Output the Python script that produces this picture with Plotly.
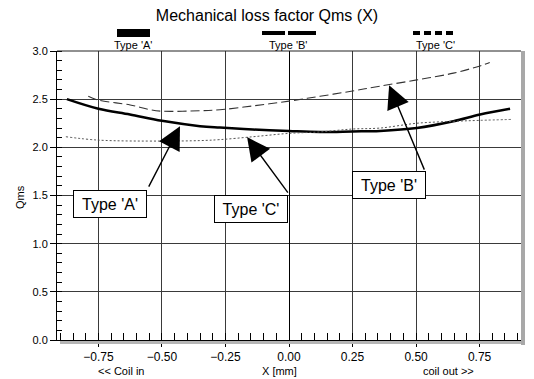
import plotly.graph_objects as go

# ---- data ----
x_a = [-0.874, -0.75, -0.626, -0.5, -0.35, -0.272, -0.142, 0.0, 0.122, 0.25, 0.358, 0.503, 0.647, 0.752, 0.87]
y_a = [2.50, 2.40, 2.34, 2.275, 2.22, 2.205, 2.185, 2.17, 2.16, 2.165, 2.17, 2.20, 2.27, 2.34, 2.40]

x_b = [-0.79, -0.75, -0.625, -0.547, -0.5, -0.35, -0.272, -0.142, 0.0, 0.122, 0.25, 0.358, 0.503, 0.647, 0.752, 0.79]
y_b = [2.53, 2.49, 2.44, 2.39, 2.375, 2.38, 2.39, 2.43, 2.48, 2.53, 2.585, 2.635, 2.70, 2.77, 2.845, 2.88]

x_c = [-0.878, -0.75, -0.5, -0.35, -0.272, -0.142, 0.0, 0.122, 0.25, 0.358, 0.503, 0.647, 0.752, 0.878]
y_c = [2.11, 2.075, 2.065, 2.07, 2.08, 2.11, 2.145, 2.16, 2.19, 2.20, 2.25, 2.27, 2.28, 2.29]

series_names = ["Type 'A'", "Type 'B'", "Type 'C'"]
title_text = "Mechanical loss factor Qms (X)"
x_ticks = [-0.75, -0.5, -0.25, 0.0, 0.25, 0.5, 0.75]
y_ticks = [0.0, 0.5, 1.0, 1.5, 2.0, 2.5, 3.0]

# callouts: (label, box centre x, box centre y, arrow tail x, tail y, tip x, tip y)
callouts = [
    ("Type 'A'", -0.705, 1.41, -0.555, 1.577, -0.429, 2.22),
    ("Type 'C'", -0.148, 1.364, 0.0, 1.515, -0.165, 2.106),
    ("Type 'B'", 0.394, 1.608, 0.535, 1.753, 0.394, 2.645),
]

FONT = "Liberation Sans, Arial, sans-serif"
W, H = 534, 379
L, R, T, B = 57, 13, 51, 39
PW, PH = W - L - R, H - T - B


def px(xp):
    return (xp - L) / PW


def py(yp):
    return (H - B - yp) / PH


fig = go.Figure()
fig.add_trace(go.Scatter(x=x_a, y=y_a, mode="lines", name=series_names[0],
                         line=dict(color="black", width=2.5, shape="spline")))
fig.add_trace(go.Scatter(x=x_b, y=y_b, mode="lines", name=series_names[1],
                         line=dict(color="#333333", width=1.1, dash="9px,4px", shape="spline")))
fig.add_trace(go.Scatter(x=x_c, y=y_c, mode="lines", name=series_names[2],
                         line=dict(color="#555555", width=1, dash="2px,2px", shape="spline")))

shapes = []
# legend swatches above the plot
shapes.append(dict(type="rect", xref="paper", yref="paper", x0=px(117), x1=px(150), y0=py(37), y1=py(29),
                   fillcolor="black", line=dict(width=0)))
shapes.append(dict(type="line", xref="paper", yref="paper", x0=px(262), x1=px(285), y0=py(33), y1=py(33),
                   line=dict(color="black", width=4)))
shapes.append(dict(type="line", xref="paper", yref="paper", x0=px(288), x1=px(316), y0=py(33), y1=py(33),
                   line=dict(color="black", width=4)))
shapes.append(dict(type="line", xref="paper", yref="paper", x0=px(413), x1=px(456), y0=py(33), y1=py(33),
                   line=dict(color="black", width=4, dash="7px,4px")))
# top frame line
shapes.append(dict(type="line", xref="paper", yref="paper", x0=0, x1=1, y0=1, y1=1,
                   line=dict(color="#222222", width=1)))
# hatched grey frame (right and bottom)
shapes.append(dict(type="rect", xref="paper", yref="paper", x0=1, x1=px(525), y0=py(345), y1=1,
                   fillcolor="#a8a8a8", line=dict(width=0)))
shapes.append(dict(type="rect", xref="paper", yref="paper", x0=px(60), x1=1, y0=py(344), y1=py(341),
                   fillcolor="#b5b5b5", line=dict(width=0)))

annotations = []
for name, cx in zip(series_names, [133, 288, 435]):
    annotations.append(dict(text=name, xref="paper", yref="paper", x=px(cx), y=py(45),
                            xanchor="center", yanchor="middle",
                            showarrow=False, font=dict(family=FONT, size=11, color="black")))

for label, bx, by, tx, ty, hx, hy in callouts:
    annotations.append(dict(text="", x=hx, y=hy, ax=tx, ay=ty, xref="x", yref="y", axref="x", ayref="y",
                            showarrow=True, arrowhead=2, arrowsize=3.3, arrowwidth=1.4, arrowcolor="black"))
    annotations.append(dict(text=label, x=bx, y=by, xref="x", yref="y", showarrow=False,
                            xanchor="center", yanchor="middle",
                            font=dict(family=FONT, size=16, color="black"),
                            bgcolor="white", bordercolor="black", borderwidth=1, borderpad=1,
                            width=70, height=24))

side = [("Qms", 20, 197, -90), ("<< Coil in", 121, 371, 0), ("X [mm]", 279, 371, 0), ("coil out >>", 448, 371, 0)]
for txt, xx, yy, ang in side:
    annotations.append(dict(text=txt, xref="paper", yref="paper", x=px(xx), y=py(yy), textangle=ang,
                            xanchor="center", yanchor="middle",
                            showarrow=False, font=dict(family=FONT, size=11, color="black")))

fig.update_layout(
    width=W, height=H,
    margin=dict(l=L, r=R, t=T, b=B, pad=0),
    paper_bgcolor="white", plot_bgcolor="white",
    showlegend=False,
    title=dict(text=title_text, x=0.5, xanchor="center", y=1 - 15 / H, yanchor="middle",
               font=dict(family=FONT, size=16, color="black")),
    font=dict(family=FONT, color="black"),
    shapes=shapes,
    annotations=annotations,
)
fig.update_xaxes(range=[-0.913, 0.913], tickvals=x_ticks, tickformat=".2f",
                 ticks="outside", ticklen=6, tickcolor="black",
                 showgrid=True, gridcolor="#3a3a3a", gridwidth=1,
                 zeroline=True, zerolinecolor="black", zerolinewidth=1.3,
                 showline=True, linecolor="black", linewidth=1,
                 tickfont=dict(family=FONT, size=12, color="black"),
                 minor=dict(dtick=0.05, tick0=0, ticks="inside", ticklen=7, tickcolor="black", showgrid=False))
fig.update_yaxes(range=[0, 3.0], tickvals=y_ticks, tickformat=".1f",
                 ticks="outside", ticklen=6, tickcolor="black",
                 showgrid=True, gridcolor="#3a3a3a", gridwidth=1,
                 zeroline=False,
                 showline=True, linecolor="black", linewidth=1,
                 tickfont=dict(family=FONT, size=11, color="black"),
                 minor=dict(dtick=0.1, tick0=0, ticks="inside", ticklen=5, tickcolor="black", showgrid=False))

fig.write_html("out.html")
